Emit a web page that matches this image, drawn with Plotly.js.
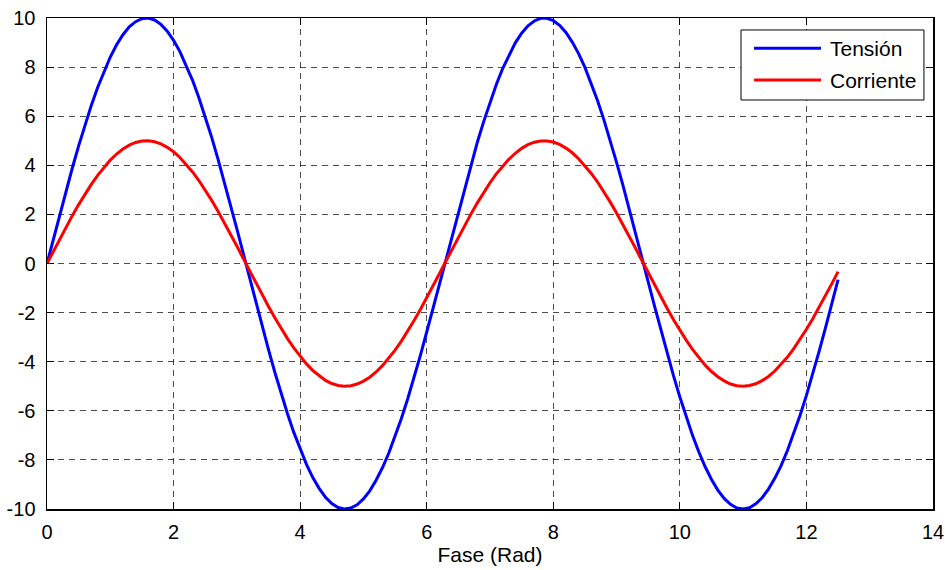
<!DOCTYPE html>
<html>
<head>
<meta charset="utf-8">
<script src="https://cdn.plot.ly/plotly-3.0.1.min.js"></script>
<style>html,body{margin:0;padding:0;background:#fff;}#chart{width:952px;height:570px;}</style>
</head>
<body>
<div id="chart"></div>
<script>
const fase = [
0.0,0.1,0.2,0.3,0.4,0.5,0.6,0.7,0.8,0.9,
1.0,1.1,1.2,1.3,1.4,1.5,1.6,1.7,1.8,1.9,
2.0,2.1,2.2,2.3,2.4,2.5,2.6,2.7,2.8,2.9,
3.0,3.1,3.2,3.3,3.4,3.5,3.6,3.7,3.8,3.9,
4.0,4.1,4.2,4.3,4.4,4.5,4.6,4.7,4.8,4.9,
5.0,5.1,5.2,5.3,5.4,5.5,5.6,5.7,5.8,5.9,
6.0,6.1,6.2,6.3,6.4,6.5,6.6,6.7,6.8,6.9,
7.0,7.1,7.2,7.3,7.4,7.5,7.6,7.7,7.8,7.9,
8.0,8.1,8.2,8.3,8.4,8.5,8.6,8.7,8.8,8.9,
9.0,9.1,9.2,9.3,9.4,9.5,9.6,9.7,9.8,9.9,
10.0,10.1,10.2,10.3,10.4,10.5,10.6,10.7,10.8,10.9,
11.0,11.1,11.2,11.3,11.4,11.5,11.6,11.7,11.8,11.9,
12.0,12.1,12.2,12.3,12.4,12.5
];
const tension = [
0, 1.00, 1.99, 2.96, 3.89, 4.79, 5.65, 6.44, 7.17, 7.83,
8.41, 8.91, 9.32, 9.64, 9.85, 9.97, 10.00, 9.92, 9.74, 9.46,
9.09, 8.63, 8.08, 7.46, 6.75, 5.98, 5.16, 4.27, 3.35, 2.39,
1.41, 0.42, -0.58, -1.58, -2.56, -3.51, -4.43, -5.30, -6.12, -6.88,
-7.57, -8.18, -8.72, -9.16, -9.52, -9.78, -9.94, -10.00, -9.96, -9.83,
-9.59, -9.26, -8.83, -8.32, -7.73, -7.06, -6.31, -5.51, -4.65, -3.74,
-2.79, -1.82, -0.83, 0.17, 1.17, 2.15, 3.11, 4.05, 4.94, 5.78,
6.57, 7.29, 7.94, 8.50, 8.99, 9.38, 9.68, 9.88, 9.99, 9.99,
9.89, 9.70, 9.41, 9.02, 8.55, 7.99, 7.34, 6.63, 5.85, 5.01,
4.12, 3.19, 2.23, 1.25, 0.25, -0.75, -1.74, -2.72, -3.67, -4.58,
-5.44, -6.25, -7.00, -7.68, -8.28, -8.80, -9.23, -9.57, -9.81, -9.96,
-10.00, -9.95, -9.79, -9.54, -9.19, -8.75, -8.23, -7.62, -6.94, -6.18,
-5.37, -4.50, -3.58, -2.63, -1.66, -0.66
];
const corriente = [
0, 0.50, 1.00, 1.48, 1.95, 2.40, 2.82, 3.22, 3.59, 3.92,
4.21, 4.46, 4.66, 4.82, 4.93, 4.99, 5.00, 4.96, 4.87, 4.73,
4.55, 4.32, 4.04, 3.73, 3.38, 2.99, 2.58, 2.14, 1.68, 1.20,
0.71, 0.21, -0.29, -0.79, -1.28, -1.75, -2.21, -2.65, -3.06, -3.44,
-3.78, -4.09, -4.36, -4.58, -4.76, -4.89, -4.97, -5.00, -4.98, -4.91,
-4.79, -4.63, -4.42, -4.16, -3.86, -3.53, -3.16, -2.75, -2.32, -1.87,
-1.40, -0.91, -0.42, 0.08, 0.58, 1.08, 1.56, 2.02, 2.47, 2.89,
3.29, 3.65, 3.97, 4.25, 4.49, 4.69, 4.84, 4.94, 4.99, 4.99,
4.95, 4.85, 4.70, 4.51, 4.27, 3.99, 3.67, 3.32, 2.92, 2.50,
2.06, 1.60, 1.11, 0.62, 0.12, -0.38, -0.87, -1.36, -1.83, -2.29,
-2.72, -3.12, -3.50, -3.84, -4.14, -4.40, -4.61, -4.78, -4.91, -4.98,
-5.00, -4.97, -4.90, -4.77, -4.60, -4.38, -4.11, -3.81, -3.47, -3.09,
-2.68, -2.25, -1.79, -1.32, -0.83, -0.33
];
const seriesNames = ["Tensión", "Corriente"];
const seriesColors = ["#0000ff", "#ff0000"];
const xTicks = [0,2,4,6,8,10,12,14];
const yTicks = [-10,-8,-6,-4,-2,0,2,4,6,8,10];

const fam = "Liberation Sans, Arial, sans-serif";
const tickFont = {family: fam, size: 20, color: "#000"};
const titleFont = {family: fam, size: 21, color: "#000"};
const traces = [
  {x: fase, y: tension, name: seriesNames[0], type: "scatter", mode: "lines",
   line: {color: seriesColors[0], width: 3}},
  {x: fase, y: corriente, name: seriesNames[1], type: "scatter", mode: "lines",
   line: {color: seriesColors[1], width: 3}}
];
const axisCommon = {
  showline: true, linecolor: "#000", linewidth: 1.5, mirror: "ticks",
  ticks: "inside", ticklen: 7, tickwidth: 1, tickcolor: "#000",
  showgrid: true, gridcolor: "rgba(0,0,0,0.7)", gridwidth: 1, griddash: "6px,5px",
  zeroline: false, tickfont: tickFont
};

// legend box drawn in paper coordinates (MATLAB-style long legend lines)
const legBox = {x0: 0.7833, x1: 0.9898, y0: 0.833, y1: 0.9756};
const legLineX = [0.7980, 0.8736];
const legTextX = 0.8815;
const legRowY = [0.9383, 0.8737];
const shapes = [
  {type: "rect", xref: "paper", yref: "paper", x0: legBox.x0, x1: legBox.x1, y0: legBox.y0, y1: legBox.y1,
   line: {color: "#000", width: 1}, fillcolor: "#fff", layer: "above"}
];
const annotations = [];
seriesNames.forEach((n, i) => {
  shapes.push({type: "line", xref: "paper", yref: "paper", x0: legLineX[0], x1: legLineX[1],
    y0: legRowY[i], y1: legRowY[i], line: {color: seriesColors[i], width: 3}, layer: "above"});
  annotations.push({xref: "paper", yref: "paper", x: legTextX, y: legRowY[i], xanchor: "left", yanchor: "middle",
    text: n, showarrow: false, font: {family: fam, size: 21, color: "#000"}});
});

const layout = {
  width: 952, height: 570,
  margin: {l: 47, r: 19, t: 18, b: 61},
  paper_bgcolor: "#fff", plot_bgcolor: "#fff",
  font: tickFont,
  xaxis: Object.assign({}, axisCommon, {range: [0, 14], tickvals: xTicks, ticktext: xTicks.map(String),
    ticklabelstandoff: 4,
    title: {text: "Fase (Rad)", font: titleFont, standoff: 6}}),
  yaxis: Object.assign({}, axisCommon, {range: [-10, 10], tickvals: yTicks, ticktext: yTicks.map(String),
    ticklabelstandoff: 6}),
  showlegend: false,
  shapes: shapes,
  annotations: annotations
};
Plotly.newPlot("chart", traces, layout, {displayModeBar: false, staticPlot: true});
</script>
</body>
</html>
